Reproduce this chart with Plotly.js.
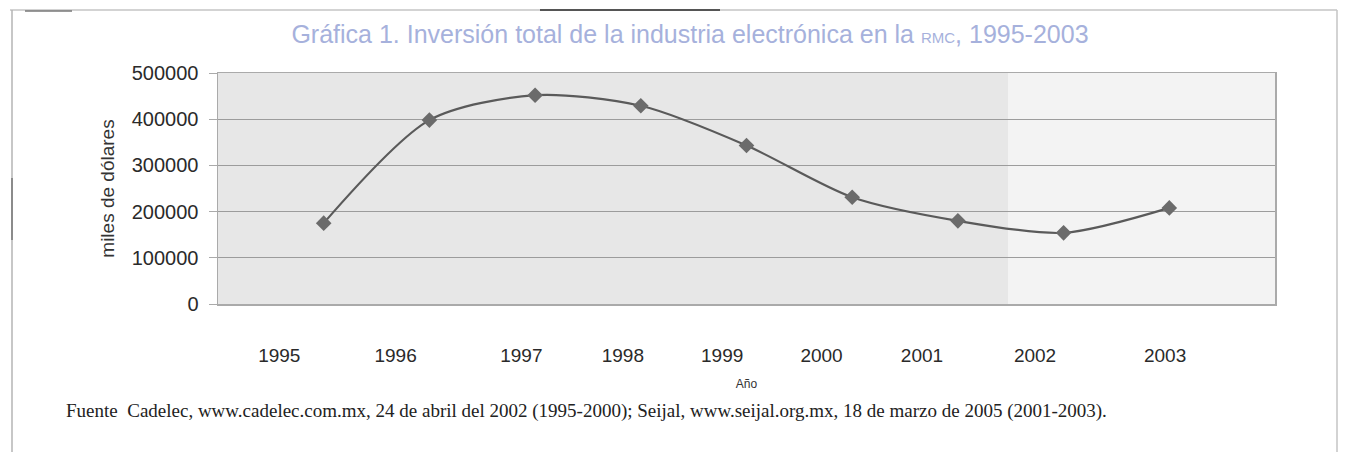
<!DOCTYPE html>
<html>
<head>
<meta charset="utf-8">
<script src="https://cdn.plot.ly/plotly-3.0.1.min.js"></script>
<style>
  html, body { margin: 0; padding: 0; background: #ffffff; }
  #chart { width: 1346px; height: 452px; }
</style>
</head>
<body>
<div id="chart"></div>
<script>
// ---- data ----
const years = [1995, 1996, 1997, 1998, 1999, 2000, 2001, 2002, 2003];
const inversion = [175000, 398000, 452000, 429000, 343000, 231000, 180000, 154000, 208000];
const tickLabels = ['1995', '1996', '1997', '1998', '1999', '2000', '2001', '2002', '2003'];
const yTicks = [0, 100000, 200000, 300000, 400000, 500000];

const titleText = 'Gráfica 1. Inversión total de la industria electrónica en la <span style="font-size:15px">RMC</span>, 1995-2003';
const yTitle = 'miles de dólares';
const xTitle = 'Año';
const sourceText = 'Fuente  Cadelec, www.cadelec.com.mx, 24 de abril del 2002 (1995-2000); Seijal, www.seijal.org.mx, 18 de marzo de 2005 (2001-2003).';

// ---- layout geometry ----
const W = 1346, H = 452;
const M = { l: 218, r: 71, t: 73, b: 148 };
const pw = W - M.l - M.r, ph = H - M.t - M.b;
const px = v => (v - M.l) / pw;      // page pixel -> paper x
const py = v => (H - M.b - v) / ph;  // page pixel -> paper y

// tick label placement (scanned figure has labels shifted from the points)
const tickPos = [1994.58, 1995.68, 1996.87, 1997.83, 1998.77, 1999.71, 2000.66, 2001.73, 2002.96];

const trace = {
  x: years,
  y: inversion,
  type: 'scatter',
  mode: 'lines+markers',
  line: { color: '#5a5a5a', width: 2.2, shape: 'spline', smoothing: 0.8 },
  marker: { symbol: 'diamond', size: 12, color: '#6b6b6b', line: { width: 0 } },
  hoverinfo: 'x+y'
};

const frame = '#c4c4c4';
const shapes = [
  { type: 'rect', xref: 'paper', yref: 'paper', x0: px(1008), x1: 1, y0: 0, y1: 1,
    fillcolor: '#f3f3f3', line: { width: 0 }, layer: 'below' },
  { type: 'line', xref: 'paper', yref: 'paper', x0: px(10), x1: px(1337), y0: py(10), y1: py(10),
    line: { color: frame, width: 1.5 } },
  { type: 'line', xref: 'paper', yref: 'paper', x0: px(540), x1: px(720), y0: py(10), y1: py(10),
    line: { color: '#555', width: 2 } },
  { type: 'line', xref: 'paper', yref: 'paper', x0: px(25), x1: px(72), y0: py(11), y1: py(11),
    line: { color: '#777', width: 1.5 } },
  { type: 'line', xref: 'paper', yref: 'paper', x0: px(12), x1: px(12), y0: py(10), y1: py(452),
    line: { color: '#b5b5b5', width: 1.5 } },
  { type: 'line', xref: 'paper', yref: 'paper', x0: px(12), x1: px(12), y0: py(178), y1: py(240),
    line: { color: '#777', width: 1.5 } },
  { type: 'line', xref: 'paper', yref: 'paper', x0: px(1337), x1: px(1337), y0: py(10), y1: py(452),
    line: { color: frame, width: 1.5 } }
];

const layout = {
  width: W, height: H,
  margin: M,
  paper_bgcolor: '#ffffff',
  plot_bgcolor: '#e7e7e7',
  showlegend: false,
  title: {
    text: titleText,
    x: px(690), xref: 'paper', xanchor: 'center',
    y: 1 - 34 / H, yref: 'container', yanchor: 'middle',
    font: { family: 'Liberation Sans, Arial, sans-serif', size: 25, color: '#a6b1dc' }
  },
  xaxis: {
    range: [1994, 2004],
    tickmode: 'array',
    tickvals: tickPos,
    ticktext: tickLabels,
    ticks: '',
    ticklabelstandoff: 34,
    showgrid: false,
    zeroline: false,
    showline: true, mirror: true, linecolor: '#aaaaaa', linewidth: 1.5,
    tickfont: { family: 'Liberation Sans, Arial, sans-serif', size: 19, color: '#2a2a2a' },
    title: { text: xTitle, standoff: 14, font: { family: 'Liberation Sans, Arial, sans-serif', size: 12, color: '#333' } },
    fixedrange: true
  },
  yaxis: {
    range: [0, 500000],
    tickmode: 'array',
    tickvals: yTicks,
    ticktext: yTicks.map(String),
    ticks: 'outside', ticklen: 8, tickcolor: '#aaaaaa', tickwidth: 1,
    ticklabelstandoff: 6,
    showgrid: true, gridcolor: '#9c9c9c', gridwidth: 1,
    zeroline: false,
    showline: true, mirror: true, linecolor: '#aaaaaa', linewidth: 1.5,
    tickfont: { family: 'Liberation Sans, Arial, sans-serif', size: 20, color: '#2a2a2a' },
    title: { text: yTitle, standoff: 12, font: { family: 'Liberation Sans, Arial, sans-serif', size: 19, color: '#333' } },
    fixedrange: true
  },
  annotations: [
    { text: sourceText, xref: 'paper', yref: 'paper', x: px(64), y: py(411),
      xanchor: 'left', yanchor: 'middle', showarrow: false,
      font: { family: 'Liberation Serif, Times New Roman, serif', size: 19, color: '#222' } }
  ],
  shapes: shapes
};

Plotly.newPlot('chart', [trace], layout, { displayModeBar: false, staticPlot: true });
</script>
</body>
</html>
